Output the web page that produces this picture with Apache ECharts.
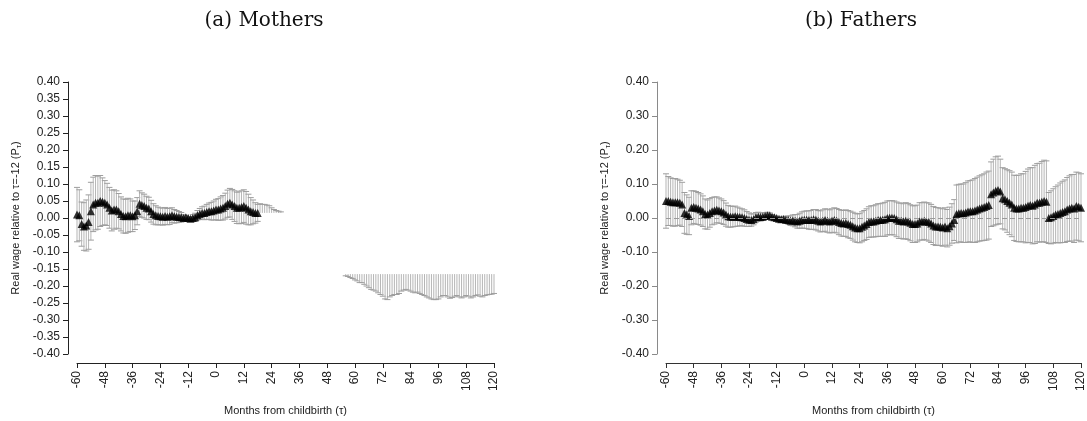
<!DOCTYPE html>
<html>
<head>
    <meta charset="utf-8"/>
    <title>Real wage around childbirth</title>
    <script src="https://cdn.jsdelivr.net/npm/echarts@6/dist/echarts.min.js"></script>
    <style>
        html, body { margin: 0; padding: 0; background: #fff; }
        #main { width: 1087px; height: 421px; }
    </style>
</head>
<body>
<div id="main"></div>
<script type="text/javascript">
    // months from childbirth: -60 .. 120
    var tauStart = -60;
    var tauTicks = [-60, -48, -36, -24, -12, 0, 12, 24, 36, 48, 60, 72, 84, 96, 108, 120];

    // mothers, visible part of the estimates (tau -60 .. 18)
    var momMean = [
        0.01, 0.008, -0.018, -0.025, -0.022, -0.012, 0.02, 0.04, 0.045, 0.045,
        0.05, 0.048, 0.045, 0.04, 0.03, 0.022, 0.025, 0.025, 0.02, 0.012,
        0.006, 0.005, 0.008, 0.008, 0.005, 0.008, 0.02, 0.042, 0.038, 0.035,
        0.03, 0.028, 0.02, 0.012, 0.008, 0.006, 0.005, 0.004, 0.006, 0.004,
        0.005, 0.008, 0.005, 0.004, 0.003, 0.002, 0.0, 0.002, 0.0, -0.002,
        0.0, 0.002, 0.008, 0.012, 0.015, 0.015, 0.018, 0.02, 0.02, 0.022,
        0.025, 0.025, 0.028, 0.03, 0.035, 0.042, 0.045, 0.04, 0.035, 0.03,
        0.03, 0.032, 0.035, 0.03, 0.025, 0.02, 0.018, 0.015, 0.015
    ];
    var momErr = [
        0.08, 0.075, 0.065, 0.07, 0.075, 0.08, 0.085, 0.08, 0.08, 0.078,
        0.075, 0.07, 0.065, 0.062, 0.06, 0.06, 0.058, 0.055, 0.052, 0.05,
        0.05, 0.05, 0.05, 0.048, 0.045, 0.042, 0.04, 0.038, 0.036, 0.035,
        0.034, 0.033, 0.032, 0.03, 0.028, 0.026, 0.025, 0.025, 0.025, 0.024,
        0.024, 0.022, 0.02, 0.018, 0.016, 0.014, 0.01, 0.006, 0.0, 0.006,
        0.01, 0.012, 0.014, 0.016, 0.018, 0.02, 0.022, 0.024, 0.026, 0.028,
        0.03, 0.032, 0.034, 0.036, 0.038, 0.04, 0.042, 0.044, 0.045, 0.046,
        0.047, 0.048, 0.048, 0.048, 0.045, 0.04, 0.035, 0.03, 0.025
    ];
    // mothers, upper ends of bars still visible for tau 19 .. 28
    var momUpperTau = [19, 20, 21, 22, 23, 24, 25, 26, 27, 28];
    var momUpperHi = [0.042, 0.04, 0.04, 0.038, 0.036, 0.03, 0.025, 0.022, 0.02, 0.018];
    var momUpperCut = 0.015;
    // mothers, lower ends of bars still visible for tau 56 .. 120
    var momLowerStart = 56;
    var momLowerLo = [
        -0.17, -0.172, -0.175, -0.178, -0.182, -0.185, -0.19, -0.19, -0.195, -0.2,
        -0.205, -0.21, -0.212, -0.215, -0.22, -0.225, -0.23, -0.238, -0.24, -0.232,
        -0.228, -0.225, -0.225, -0.222, -0.215, -0.212, -0.21, -0.212, -0.215, -0.218,
        -0.22, -0.218, -0.222, -0.225, -0.228, -0.232, -0.235, -0.238, -0.24, -0.24,
        -0.238, -0.232, -0.228, -0.228, -0.232, -0.236, -0.234, -0.23, -0.228, -0.232,
        -0.235, -0.232, -0.228, -0.23, -0.235, -0.232, -0.228, -0.226, -0.23, -0.232,
        -0.228, -0.226, -0.225, -0.224, -0.222
    ];
    var momLowerCut = -0.165;

    // fathers (tau -60 .. 120)
    var dadMean = [
        0.05, 0.05, 0.048, 0.046, 0.046, 0.046, 0.045, 0.04,
        0.015, 0.01, 0.006,
        0.03, 0.032, 0.03, 0.028, 0.025, 0.02, 0.012, 0.01, 0.015, 0.02,
        0.022, 0.024, 0.022, 0.02, 0.016, 0.01, 0.005, 0.004, 0.004, 0.005,
        0.004, 0.003, 0.002, 0.0, -0.003, -0.005, -0.006, -0.004, 0.002, 0.004,
        0.003, 0.004, 0.006, 0.008, 0.007, 0.004, 0.002, 0.0, -0.002, -0.004,
        -0.003, -0.005, -0.006, -0.008, -0.007, -0.008, -0.01, -0.008, -0.006, -0.005,
        -0.005, -0.006, -0.006, -0.004, -0.005, -0.008, -0.01, -0.008, -0.006, -0.008,
        -0.01, -0.008, -0.006, -0.008, -0.012, -0.015, -0.016, -0.015, -0.018, -0.02,
        -0.024, -0.028, -0.03, -0.03, -0.026, -0.022, -0.018, -0.012, -0.01, -0.01,
        -0.008, -0.006, -0.006, -0.005, -0.004, 0.0, 0.001, 0.001, 0.0, -0.004,
        -0.008, -0.008, -0.01, -0.008, -0.01, -0.014, -0.018, -0.018, -0.016, -0.01,
        -0.01, -0.008, -0.01, -0.012, -0.016, -0.022, -0.025, -0.025, -0.026, -0.028,
        -0.025, -0.03, -0.024, -0.016, -0.006, 0.012, 0.014, 0.015, 0.014, 0.016,
        0.019, 0.02, 0.02, 0.022, 0.025, 0.028, 0.03, 0.032, 0.035, 0.038,
        0.07, 0.075, 0.08, 0.082, 0.078, 0.058, 0.055, 0.05, 0.045, 0.04,
        0.03, 0.028, 0.028, 0.03, 0.03, 0.032, 0.036, 0.038, 0.036, 0.04,
        0.045, 0.045, 0.048, 0.05, 0.048, 0.0, 0.002, 0.006, 0.01, 0.012,
        0.015, 0.018, 0.02, 0.025, 0.028, 0.03, 0.028, 0.035, 0.033, 0.03
    ];
    var dadErr = [
        0.08, 0.072, 0.07, 0.07, 0.07, 0.068, 0.066, 0.065,
        0.06, 0.058, 0.055,
        0.05, 0.048, 0.048, 0.047, 0.046, 0.045, 0.044, 0.043, 0.042, 0.04,
        0.04, 0.038, 0.037, 0.036, 0.035, 0.034, 0.032, 0.031, 0.03, 0.03,
        0.028, 0.026, 0.025, 0.024, 0.022, 0.02, 0.018, 0.016, 0.014, 0.013,
        0.012, 0.011, 0.01, 0.009, 0.008, 0.006, 0.004, 0.0, 0.004, 0.006,
        0.008, 0.01, 0.012, 0.014, 0.016, 0.018, 0.02, 0.022, 0.024, 0.025,
        0.026, 0.027, 0.028, 0.029, 0.03, 0.03, 0.031, 0.032, 0.033, 0.034,
        0.034, 0.035, 0.036, 0.036, 0.037, 0.038, 0.038, 0.039, 0.04, 0.04,
        0.041, 0.042, 0.042, 0.043, 0.044, 0.044, 0.045, 0.045, 0.046, 0.046,
        0.047, 0.048, 0.048, 0.049, 0.05, 0.05, 0.05, 0.05, 0.05, 0.051,
        0.052, 0.052, 0.052, 0.053, 0.053, 0.053, 0.054, 0.054, 0.054, 0.055,
        0.055, 0.055, 0.055, 0.056, 0.056, 0.056, 0.056, 0.055, 0.055, 0.055,
        0.055, 0.055, 0.056, 0.058, 0.06, 0.085, 0.085, 0.085, 0.086, 0.088,
        0.09, 0.09, 0.092, 0.094, 0.095, 0.096, 0.097, 0.098, 0.1, 0.1,
        0.095, 0.098, 0.1, 0.1, 0.095, 0.09, 0.09, 0.092, 0.094, 0.095,
        0.096, 0.097, 0.098, 0.1, 0.1, 0.105, 0.108, 0.11, 0.112, 0.115,
        0.115, 0.116, 0.118, 0.12, 0.12, 0.075, 0.078, 0.08, 0.082, 0.085,
        0.088, 0.09, 0.092, 0.094, 0.096, 0.098, 0.1, 0.1, 0.1, 0.1
    ];

    // [tau, lo, hi, capLo, capHi]
    function barsFrom(mean, err) {
        return mean.map(function (m, i) {
            return [tauStart + i, m - err[i], m + err[i], 1, 1];
        });
    }
    function pointsFrom(mean) {
        return mean.map(function (m, i) { return [tauStart + i, m]; });
    }

    var momBars = barsFrom(momMean, momErr);
    momUpperTau.forEach(function (t, i) {
        momBars.push([t, momUpperCut, momUpperHi[i], 0, 1]);
    });
    momLowerLo.forEach(function (lo, i) {
        momBars.push([momLowerStart + i, lo, momLowerCut, 1, 0]);
    });
    var dadBars = barsFrom(dadMean, dadErr);

    function renderErr(params, api) {
        var x = api.value(0);
        var top = api.coord([x, api.value(2)]);
        var bot = api.coord([x, api.value(1)]);
        var c = 3;
        var kids = [{
            type: 'line',
            shape: {x1: top[0], y1: top[1], x2: bot[0], y2: bot[1]},
            style: {stroke: '#b5b5b5', lineWidth: 1}
        }];
        if (api.value(4)) {
            kids.push({type: 'line', shape: {x1: top[0] - c, y1: top[1], x2: top[0] + c, y2: top[1]},
                style: {stroke: '#9e9e9e', lineWidth: 1}});
        }
        if (api.value(3)) {
            kids.push({type: 'line', shape: {x1: bot[0] - c, y1: bot[1], x2: bot[0] + c, y2: bot[1]},
                style: {stroke: '#9e9e9e', lineWidth: 1}});
        }
        return {type: 'group', children: kids};
    }

    function fmt(v) {
        if (Math.abs(v) < 1e-9) return '0.00';
        return v.toFixed(2);
    }

    var yName = 'Real wage relative to τ=-12 (P{s|τ})';
    var nameRich = {s: {fontSize: 8, verticalAlign: 'bottom', padding: [6, 0, 0, 0], color: '#222'}};

    function xAxisFor(idx, lineColor) {
        return {
            gridIndex: idx, type: 'value', min: -60, max: 120, interval: 12, offset: 9,
            axisLine: {show: true, onZero: false, lineStyle: {color: lineColor, width: 1}},
            axisTick: {show: true, length: 5, lineStyle: {color: lineColor}},
            axisLabel: {rotate: 90, fontSize: 12, color: '#222', margin: 8, fontFamily: 'Liberation Sans'},
            splitLine: {show: false},
            name: 'Months from childbirth (τ)', nameLocation: 'middle', nameGap: 42,
            nameTextStyle: {fontSize: 11, color: '#222', fontFamily: 'Liberation Sans'}
        };
    }
    function yAxisFor(idx, step, lineColor) {
        return {
            gridIndex: idx, type: 'value', min: -0.4, max: 0.4, interval: step, offset: 9,
            axisLine: {show: true, onZero: false, lineStyle: {color: lineColor, width: 1}},
            axisTick: {show: true, length: 5, lineStyle: {color: lineColor}},
            axisLabel: {fontSize: 12, color: '#222', margin: 8, formatter: fmt, fontFamily: 'Liberation Sans'},
            splitLine: {show: false},
            name: yName, nameLocation: 'middle', nameRotate: 90, nameGap: 45,
            nameTextStyle: {fontSize: 11, color: '#222', fontFamily: 'Liberation Sans', rich: nameRich}
        };
    }

    var myChart = echarts.init(document.getElementById('main'));
    myChart.setOption({
        animation: false,
        backgroundColor: '#fff',
        title: [
            {text: '(a) Mothers', left: 259, top: 6, textAlign: 'center',
                textStyle: {fontFamily: 'DejaVu Serif', fontSize: 20, fontWeight: 'normal', color: '#111'}},
            {text: '(b) Fathers', left: 856, top: 6, textAlign: 'center',
                textStyle: {fontFamily: 'DejaVu Serif', fontSize: 20, fontWeight: 'normal', color: '#111'}}
        ],
        grid: [
            {left: 77, top: 82, width: 417, height: 272},
            {left: 666, top: 82, width: 417, height: 272}
        ],
        xAxis: [xAxisFor(0, '#222'), xAxisFor(1, '#333')],
        yAxis: [yAxisFor(0, 0.05, '#222'), yAxisFor(1, 0.1, '#8a8a8a')],
        series: [
            {type: 'custom', xAxisIndex: 0, yAxisIndex: 0, renderItem: renderErr, data: momBars, silent: true, z: 2},
            {type: 'scatter', xAxisIndex: 0, yAxisIndex: 0, symbol: 'triangle', symbolSize: 8,
                itemStyle: {color: '#000'}, data: pointsFrom(momMean), silent: true, z: 3},
            {type: 'custom', xAxisIndex: 1, yAxisIndex: 1, renderItem: renderErr, data: dadBars, silent: true, z: 2,
                markLine: {
                    silent: true, symbol: 'none', label: {show: false},
                    lineStyle: {type: [5, 3], color: '#9a9a9a', width: 1},
                    data: [{yAxis: 0}]
                }},
            {type: 'scatter', xAxisIndex: 1, yAxisIndex: 1, symbol: 'triangle', symbolSize: 8,
                itemStyle: {color: '#000'}, data: pointsFrom(dadMean), silent: true, z: 3}
        ]
    });
</script>
</body>
</html>
